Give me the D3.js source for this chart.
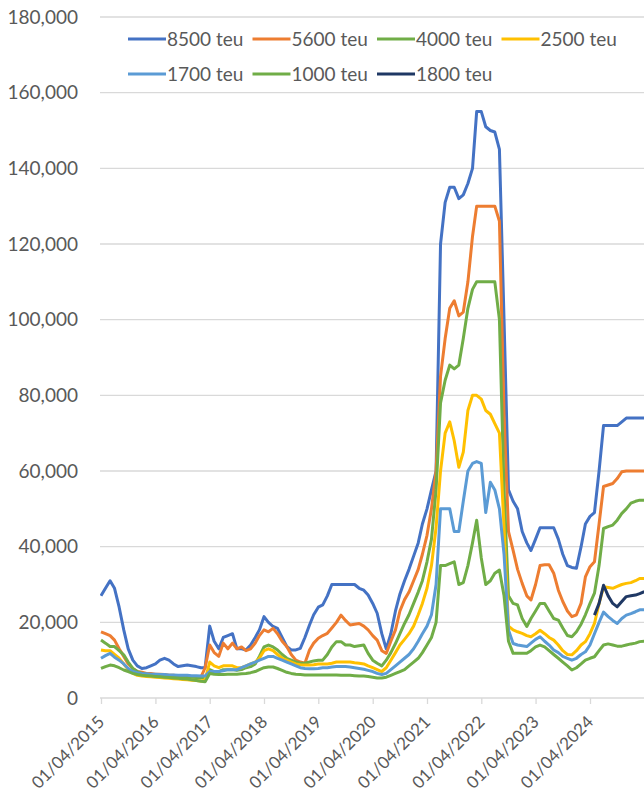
<!DOCTYPE html>
<html>
<head>
<meta charset="utf-8">
<title>Charter rates by size</title>
<script src="https://cdn.jsdelivr.net/npm/d3@7"></script>
<style>
  body { margin: 0; background: #fff; }
  svg { display: block; }
  text { font-family: Lato, "Open Sans", sans-serif; fill: #595959; }
</style>
</head>
<body>
<div id="chart"></div>
<script>
// monthly values in thousand USD/day, first month = 01/04/2015
const firstMonth = Date.UTC(2015, 3, 1);

const tickLabels = ["01/04/2015", "01/04/2016", "01/04/2017", "01/04/2018", "01/04/2019",
                    "01/04/2020", "01/04/2021", "01/04/2022", "01/04/2023", "01/04/2024"];
const yTicks = [0, 20000, 40000, 60000, 80000, 100000, 120000, 140000, 160000, 180000];

const names = ["8500 teu", "5600 teu", "4000 teu", "2500 teu", "1700 teu", "1000 teu", "1800 teu"];
const colors = ["#4472C4", "#ED7D31", "#70AD47", "#FFC000", "#5B9BD5", "#70AD47", "#1F3864"];

const teu8500 = [27, 29, 31, 29, 24, 18, 13, 10, 8.5, 7.8, 8, 8.5,
  9, 10, 10.5, 10, 9, 8.3, 8.5, 8.7, 8.5, 8.3, 8, 8,
  19, 15, 13, 16, 16.5, 17, 13, 13, 12.7, 14, 16, 18,
  21.5, 20, 18.9, 18.4, 16, 13.6, 12.7, 12.7, 13.1, 16, 19.3, 22,
  24, 24.6, 27, 30, 30, 30, 30, 30, 30, 29, 28.5, 27.2,
  25, 22.4, 17, 13, 17, 23, 27.5, 31, 34, 37.5, 41, 46,
  50, 55, 60, 120, 131, 135, 135, 132, 133, 136, 140, 155,
  155, 151, 150, 149.6, 145, 100, 55, 52, 50, 44, 41, 39,
  42, 45, 45, 45, 45, 42, 38, 35, 34.5, 34.3, 40, 46,
  48, 49, 60, 72, 72, 72, 72, 73, 74, 74, 74, 74, 74];
const teu5600 = [17.5, 17, 16.5, 15.3, 13, 11, 9, 7.8, 7, 6.8, 6.5, 6.5,
  6.3, 6.3, 6.2, 6, 6, 5.8, 5.8, 5.7, 5.6, 5.5, 5.5, 8,
  14, 12, 11, 14.5, 13, 14.5, 13, 13.5, 12.5, 13, 14.5, 16.5,
  18, 17.5, 18.4, 17, 15, 13.6, 11.5, 10, 9.5, 9.2, 12.7, 14.5,
  15.8, 16.5, 17.1, 18.5, 20, 21.9, 20.5, 19.3, 19.5, 19.7, 19, 18,
  16.5, 15.3, 12.5, 11.8, 15, 18, 23, 26, 28, 31, 34, 38,
  43, 50, 60, 85, 95, 103, 105, 101, 102, 110, 122, 130,
  130, 130, 130, 130, 126, 75, 44, 39, 34, 30.3, 27, 25.9,
  30, 35, 35.2, 35.2, 33, 28.5, 25.5, 23, 21.5, 22, 25, 32,
  34.7, 36, 46, 55.9, 56.3, 56.7, 58, 59.8, 60, 60, 60, 60, 60];
const teu4000 = [15.3, 14.5, 13.6, 13.6, 12.5, 11.4, 9.5, 7.8, 7, 6.5, 6.3, 6.2,
  6, 6, 6, 5.8, 5.8, 5.7, 5.6, 5.5, 5.5, 5.4, 5.3, 5.5,
  7.5, 7, 7, 7.5, 7.5, 7.5, 7.3, 7.5, 8, 8.3, 9, 11,
  13.5, 14, 13.5, 12.7, 11.5, 10.5, 10, 9.5, 9.2, 9.2, 9.5, 9.8,
  10, 10, 11.5, 13.5, 14.9, 14.9, 14, 14, 13.6, 13.8, 14, 11.8,
  10, 9.2, 8.5, 10, 12, 14.4, 17, 19.7, 22, 25, 28, 31,
  36, 42, 55, 78, 84, 88, 87, 88, 95, 103, 108, 110,
  110, 110, 110, 110, 100, 55, 27, 25, 24.6, 21, 18.9, 21,
  23, 25, 25, 23, 21, 20.6, 18.5, 16.5, 16.2, 17.5, 19.5, 22,
  25, 27.7, 35, 44.8, 45.3, 45.7, 47, 48.8, 50, 51.5, 52, 52.3, 52.3];
const teu2500 = [12.7, 12.5, 12.5, 11.5, 10.5, 9, 7.5, 6.5, 6, 5.8, 5.7, 5.6,
  5.5, 5.4, 5.3, 5.2, 5.1, 5, 4.9, 4.8, 4.7, 4.6, 4.5, 4.8,
  9.5, 8.5, 8, 8.5, 8.5, 8.5, 8, 8, 8.5, 9, 9.5, 10.5,
  12.5, 13, 12.5, 11.5, 10.5, 10, 9.5, 9, 8.8, 8.7, 8.7, 8.8,
  9, 9, 9, 9.2, 9.5, 9.5, 9.5, 9.5, 9.3, 9.2, 9, 8.5,
  8, 7.5, 7, 8, 10, 12, 14, 15.5, 17, 19, 22, 25,
  29, 35, 45, 60, 70, 73, 68, 61, 65, 76, 80, 80,
  79, 76, 75, 72.5, 70, 45, 19, 18, 17.5, 17.1, 16.5, 16.2,
  17, 17.9, 17, 16, 15.3, 14, 12.5, 11.5, 11.4, 12.5, 14, 14.9,
  17, 19.7, 25, 29.4, 29.2, 29, 29.5, 30, 30.3, 30.5, 31, 31.6, 31.6];
const teu1700 = [10.5, 11.2, 11.8, 10.8, 10, 9, 7.8, 7, 6.7, 6.5, 6.4, 6.3,
  6.3, 6.2, 6.2, 6.1, 6.1, 6, 6, 6, 5.9, 5.9, 5.8, 5.8,
  7, 7, 7, 7.2, 7.5, 7.5, 7.5, 8, 8.5, 9, 9.5, 10,
  10.5, 11, 11, 10.5, 10, 9.5, 9, 8.5, 8, 7.8, 7.7, 7.7,
  7.8, 8, 8, 8.2, 8.3, 8.3, 8.3, 8.2, 8, 7.8, 7.6, 7.3,
  7, 6.5, 6.2, 6.5, 7.5, 8.5, 9.5, 10.5, 11.5, 13, 15, 17,
  19, 22, 30, 50, 50, 50, 44, 44, 52, 60, 62, 62.5,
  62, 49, 57, 55, 50, 38, 18, 14.4, 14, 13.8, 13.6, 14.5,
  15.5, 16.2, 15, 14, 12.7, 12, 11, 10.5, 10, 10.5, 11.5, 12.2,
  14, 17, 20, 22.7, 21.5, 20.5, 19.7, 21, 21.9, 22.3, 22.8, 23.3, 23.3];
const teu1000 = [7.8, 8.3, 8.7, 8.5, 8, 7.4, 7, 6.5, 6.2, 6, 5.9, 5.8,
  5.7, 5.6, 5.5, 5.4, 5.3, 5.2, 5.1, 5, 4.8, 4.6, 4.4, 4.3,
  6.5, 6.3, 6.2, 6.2, 6.3, 6.3, 6.3, 6.4, 6.5, 6.7, 7, 7.5,
  8, 8.2, 8.2, 7.8, 7.3, 6.8, 6.5, 6.3, 6.2, 6.1, 6.1, 6.1,
  6.1, 6.1, 6.1, 6.1, 6.1, 6, 6, 6, 5.9, 5.8, 5.8, 5.7,
  5.5, 5.3, 5.3, 5.5, 6, 6.5, 7, 7.5, 8.5, 9.5, 10.5, 12,
  14, 16, 20, 35, 35, 35.5, 36, 30, 30.5, 35, 41, 47,
  37, 30, 31, 33, 33.8, 27, 15, 11.8, 11.8, 11.8, 11.8, 12.5,
  13.5, 14, 13.5, 12.5, 11.5, 10.5, 9.5, 8.5, 7.4, 8, 9, 10,
  10.5, 10.9, 12.5, 14, 14.3, 14, 13.7, 13.7, 14, 14.3, 14.5, 14.9, 15];
// 1800 teu only reported from 01/05/2024
const teu1800Start = Date.UTC(2024, 4, 1);
const teu1800 = [21.9, 25, 29.8, 27, 25, 24.1, 25.5, 26.8, 27, 27.2, 27.6, 28.1];

const width = 644, height = 794;
const plotLeft = 100, plotRight = 644, plotTop = 17, plotBottom = 698;

const toSeries = (vals, start) => {
    const months = d3.utcMonth.range(start, d3.utcMonth.offset(start, vals.length));
    return vals.map((v, i) => ({ date: months[i], value: v * 1000 }));
};

const series = [
    toSeries(teu8500, firstMonth),
    toSeries(teu5600, firstMonth),
    toSeries(teu4000, firstMonth),
    toSeries(teu2500, firstMonth),
    toSeries(teu1700, firstMonth),
    toSeries(teu1000, firstMonth),
    toSeries(teu1800, teu1800Start)
];

const tickDates = tickLabels.map(s => {
    const [d, m, y] = s.split("/").map(Number);
    return new Date(Date.UTC(y, m - 1, d));
});

const x = d3.scaleUtc()
    .domain([tickDates[0], tickDates[tickDates.length - 1]])
    .range([101, 590]);

const y = d3.scaleLinear()
    .domain([0, 180000])
    .range([plotBottom, plotTop]);

const svg = d3.select("#chart")
    .append("svg")
    .attr("width", width)
    .attr("height", height);

// gridlines
svg.append("g")
    .selectAll("line")
    .data(yTicks)
    .join("line")
    .attr("x1", plotLeft)
    .attr("x2", plotRight)
    .attr("y1", d => y(d))
    .attr("y2", d => y(d))
    .attr("stroke", "#D9D9D9")
    .attr("stroke-width", 1.3);

// y axis labels
svg.append("g")
    .attr("transform", `translate(${plotLeft},0)`)
    .call(d3.axisLeft(y).tickValues(yTicks).tickFormat(d3.format(",")).tickSize(0).tickPadding(22))
    .call(g => g.select(".domain").remove())
    .selectAll("text")
    .style("font-size", "19px")
    .attr("fill", "#595959");

// x axis
const xAxis = svg.append("g")
    .attr("transform", `translate(0,${plotBottom})`)
    .call(d3.axisBottom(x).tickValues(tickDates).tickFormat((d, i) => tickLabels[i]).tickSize(6))
    .call(g => g.select(".domain").remove());

xAxis.selectAll(".tick line")
    .attr("stroke", "#D9D9D9")
    .attr("stroke-width", 1.3);

xAxis.selectAll(".tick text")
    .style("font-size", "17px")
    .attr("fill", "#595959")
    .attr("text-anchor", "end")
    .attr("y", 0)
    .attr("dy", 0)
    .attr("transform", "translate(4,25) rotate(-45)");

// lines
const line = d3.line()
    .x(d => x(d.date))
    .y(d => y(d.value));

svg.append("defs").append("clipPath")
    .attr("id", "plot-clip")
    .append("rect")
    .attr("x", plotLeft)
    .attr("y", 0)
    .attr("width", plotRight - plotLeft)
    .attr("height", plotBottom + 2);

svg.append("g")
    .attr("clip-path", "url(#plot-clip)")
    .selectAll("path")
    .data(series)
    .join("path")
    .attr("fill", "none")
    .attr("stroke", (d, i) => colors[i])
    .attr("stroke-width", 3)
    .attr("stroke-linejoin", "round")
    .attr("d", line);

// legend, 4 per row
const legend = svg.append("g")
    .selectAll("g")
    .data(names)
    .join("g")
    .attr("transform", (d, i) => `translate(${128 + (i % 4) * 124.5},${i < 4 ? 39 : 74})`);

legend.append("line")
    .attr("x1", 0)
    .attr("x2", 38)
    .attr("stroke", (d, i) => colors[i])
    .attr("stroke-width", 3);

legend.append("text")
    .attr("x", 39)
    .attr("dy", "0.35em")
    .style("font-size", "19px")
    .text(d => d);
</script>
</body>
</html>
